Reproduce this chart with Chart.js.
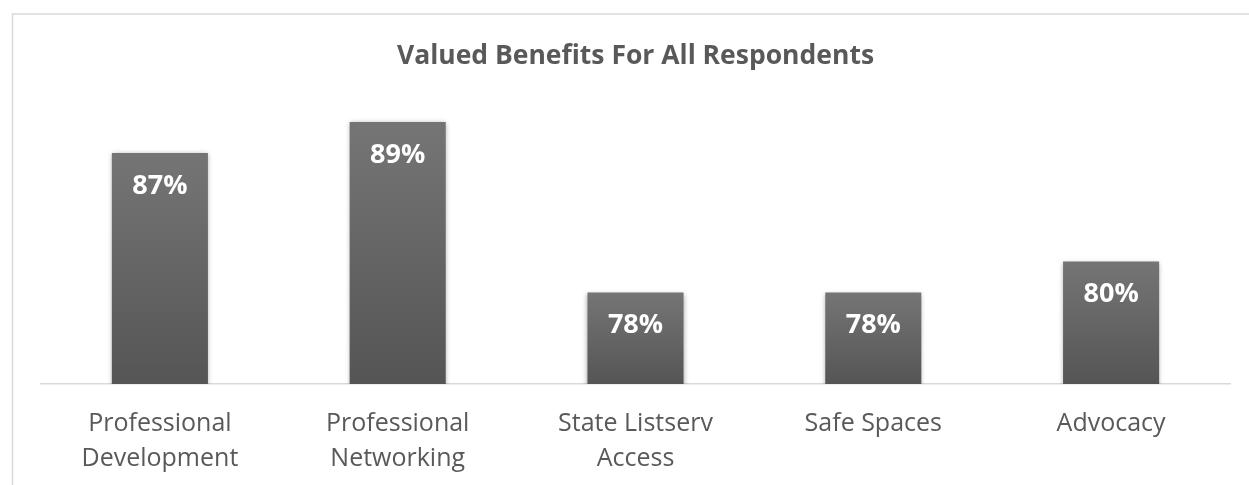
<!DOCTYPE html>
<html>
<head>
<meta charset="utf-8">
<script src="https://cdn.jsdelivr.net/npm/chart.js@4.4.1/dist/chart.umd.min.js"></script>
<style>
  html, body { margin: 0; padding: 0; background: #ffffff; }
  #wrap { width: 1249px; height: 485px; position: relative; }
</style>
</head>
<body>
<div id="wrap"><canvas id="c" width="1249" height="485"></canvas></div>
<script>
const categories = [
  ["Professional", "Development"],
  ["Professional", "Networking"],
  ["State Listserv", "Access"],
  ["Safe Spaces"],
  ["Advocacy"]
];
const values = [87, 89, 78, 78, 80];
const titleText = "Valued Benefits For All Respondents";

const frame = {
  id: 'frame',
  beforeDraw(chart) {
    const ctx = chart.ctx;
    ctx.save();
    ctx.strokeStyle = '#d9d9d9';
    ctx.lineWidth = 1.5;
    ctx.strokeRect(12.5, 14, 1300, 600);
    ctx.restore();
  }
};

const shadow = {
  id: 'shadow',
  beforeDatasetDraw(chart) {
    const ctx = chart.ctx;
    ctx.save();
    ctx.shadowColor = 'rgba(0,0,0,0.35)';
    ctx.shadowBlur = 5;
    ctx.shadowOffsetX = 0;
    ctx.shadowOffsetY = 1;
  },
  afterDatasetDraw(chart) {
    chart.ctx.restore();
  }
};

const labels = {
  id: 'barLabels',
  afterDatasetsDraw(chart) {
    const ctx = chart.ctx;
    const meta = chart.getDatasetMeta(0);
    ctx.save();
    ctx.fillStyle = '#ffffff';
    ctx.font = 'bold 27px "Open Sans"';
    ctx.textAlign = 'center';
    ctx.textBaseline = 'middle';
    meta.data.forEach((el, i) => {
      ctx.fillText(values[i] + '%', el.x, el.y + 33);
    });
    ctx.restore();
  }
};

new Chart(document.getElementById('c'), {
  type: 'bar',
  data: {
    labels: categories,
    datasets: [{
      data: values,
      borderWidth: 0,
      barPercentage: 0.404,
      categoryPercentage: 1,
      backgroundColor(context) {
        const chart = context.chart;
        const ys = chart.scales && chart.scales.y;
        if (!ys || !chart.chartArea || context.raw === undefined) return '#656565';
        const top = ys.getPixelForValue(context.raw);
        const bottom = ys.getPixelForValue(ys.min);
        const g = chart.ctx.createLinearGradient(0, top, 0, bottom);
        g.addColorStop(0, '#757575');
        g.addColorStop(1, '#555555');
        return g;
      }
    }]
  },
  options: {
    responsive: false,
    animation: false,
    layout: { padding: { left: 41, right: 19, top: 0, bottom: 0 } },
    plugins: {
      legend: { display: false },
      tooltip: { enabled: false },
      title: {
        display: true,
        text: titleText,
        color: '#595959',
        font: { family: '"Open Sans"', size: 26.5, weight: 'bold', lineHeight: 1.2 },
        padding: { top: 41, bottom: 33.7 }
      }
    },
    scales: {
      y: {
        display: false,
        min: 72.1,
        max: 90
      },
      x: {
        grid: { display: false, drawTicks: false },
        border: { display: true, color: '#d9d9d9', width: 1.5 },
        ticks: {
          color: '#595959',
          font: { family: '"Open Sans"', size: 25, lineHeight: 1.4 },
          padding: 22,
          maxRotation: 0,
          autoSkip: false
        },
        afterFit(scale) { scale.height = 101; }
      }
    }
  },
  plugins: [frame, shadow, labels]
});
</script>
</body>
</html>
